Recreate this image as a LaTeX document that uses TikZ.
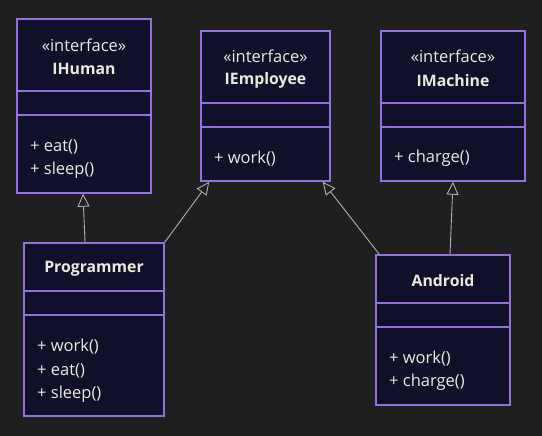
\documentclass[tikz,border=0pt]{standalone}
\usepackage{fontspec}
\setmainfont{Open Sans}
\usetikzlibrary{arrows.meta}
\definecolor{bgcol}{RGB}{31,31,31}
\definecolor{boxfill}{RGB}{16,16,42}
\definecolor{boxline}{RGB}{147,112,219}
\definecolor{txtcol}{RGB}{236,234,222}
\definecolor{linkcol}{RGB}{175,175,175}
\tikzset{
  classbox/.style={draw=boxline, fill=boxfill, line width=1.4pt, inner sep=0pt},
  compline/.style={boxline, line width=1.2pt},
  stereo/.style={text=txtcol, yshift=-1.5pt, font=\fontsize{16.5}{18}\selectfont},
  cname/.style={text=txtcol, yshift=-1.5pt, font=\fontsize{15.8}{18}\selectfont\bfseries},
  member/.style={text=txtcol, anchor=west, inner sep=0pt, yshift=-1.5pt, font=\fontsize{16.5}{18}\selectfont},
  inherit/.style={linkcol, line width=0.9pt, -{Triangle[open, length=13pt, width=12pt, fill=bgcol]}},
}
\begin{document}
\begin{tikzpicture}[x=1pt, y=-1pt]
  \fill[bgcol] (0,0) rectangle (542,436);
  \useasboundingbox (0,0) rectangle (542,436);

  % IHuman
  \node[classbox, minimum width=134pt, minimum height=174pt] (human) at (84,106) {};
  \draw[compline] (human.west |- 0,91) -- (human.east |- 0,91);
  \draw[compline] (human.west |- 0,115) -- (human.east |- 0,115);
  \node[stereo] (humanst) at (84,44) {«interface»};
  \node[cname] (humanname) at (84,67) {IHuman};
  \node[member] (humaneat) at (30,145) {+ eat()};
  \node[member] (humansleep) at (30,169) {+ sleep()};

  % IEmployee
  \node[classbox, minimum width=129pt, minimum height=150pt] (employee) at (265.5,106) {};
  \draw[compline] (employee.west |- 0,103) -- (employee.east |- 0,103);
  \draw[compline] (employee.west |- 0,127) -- (employee.east |- 0,127);
  \node[stereo] (employeest) at (265.5,55) {«interface»};
  \node[cname] (employeename) at (265.5,79) {IEmployee};
  \node[member] (employeework) at (214,157) {+ work()};

  % IMachine
  \node[classbox, minimum width=144pt, minimum height=150pt] (machine) at (453,106) {};
  \draw[compline] (machine.west |- 0,103) -- (machine.east |- 0,103);
  \draw[compline] (machine.west |- 0,127) -- (machine.east |- 0,127);
  \node[stereo] (machinest) at (453,55) {«interface»};
  \node[cname] (machinename) at (453,79) {IMachine};
  \node[member] (machinecharge) at (394,157) {+ charge()};

  % Programmer
  \node[classbox, minimum width=140pt, minimum height=173pt] (prog) at (94,329.5) {};
  \draw[compline] (prog.west |- 0,291) -- (prog.east |- 0,291);
  \draw[compline] (prog.west |- 0,315) -- (prog.east |- 0,315);
  \node[cname] (progname) at (94,267) {Programmer};
  \node[member] (progwork) at (37,345) {+ work()};
  \node[member] (progeat) at (37,369) {+ eat()};
  \node[member] (progsleep) at (37,393) {+ sleep()};

  % Android
  \node[classbox, minimum width=134pt, minimum height=150pt] (android) at (443,330) {};
  \draw[compline] (android.west |- 0,303) -- (android.east |- 0,303);
  \draw[compline] (android.west |- 0,327) -- (android.east |- 0,327);
  \node[cname] (androidname) at (443,279) {Android};
  \node[member] (androidwork) at (389,357) {+ work()};
  \node[member] (androidcharge) at (389,381) {+ charge()};

  % realisations
  \draw[inherit] ([xshift=-9pt]prog.north) -- ([xshift=-1pt]human.south);
  \draw[inherit] (prog.north east) -- ([xshift=9pt]employee.south west);
  \draw[inherit] ([xshift=4pt]android.north west) -- ([xshift=-8pt]employee.south east);
  \draw[inherit] ([xshift=7pt]android.north) -- (machine.south);
\end{tikzpicture}
\end{document}
